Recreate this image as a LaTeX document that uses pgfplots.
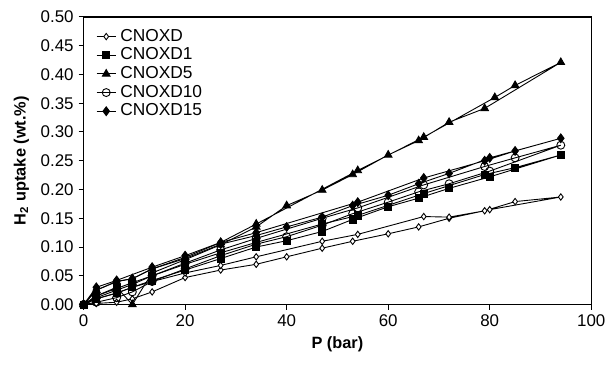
\documentclass[border=0pt]{standalone}
\usepackage{pgfplots}
\pgfplotsset{compat=1.18}
\usepackage{fontspec}
\setmainfont{Liberation Sans}
\usetikzlibrary{calc}
\begin{document}
\begin{tikzpicture}
\begin{axis}[name=ax,
  scale only axis, width=255pt, height=144.5pt,
  xmin=0, xmax=100, ymin=0, ymax=0.5,
  xtick={0,20,...,100}, ytick={0,0.05,...,0.5},
  yticklabel style={xshift=1pt,/pgf/number format/.cd,fixed,fixed zerofill,precision=2},
  /pgf/number format/assume math mode=true,
  tick align=outside, xtick pos=bottom, ytick pos=left,
  major tick length=2.5pt,
  axis line style={line width=0.6pt},
  tick style={line width=0.5pt,black},
  ticklabel style={font=\fontsize{8.5}{9}\selectfont},
  xticklabel style={yshift=1pt},
  xlabel={\textbf{P (bar)}}, ylabel={\textbf{H\textsubscript{2} uptake (wt.\%)}},
  label style={font=\fontsize{8.2}{9.5}\selectfont},
  xlabel style={yshift=2pt}, ylabel style={yshift=-1pt},
  legend style={at={(0.02,0.98)},anchor=north west,draw=none,fill=none,
    font=\fontsize{8.7}{9}\selectfont, row sep=-2.2pt, inner sep=1pt},
  legend cell align=left,
  legend image code/.code={\draw[mark repeat=2,mark phase=2] plot coordinates {(0cm,0cm)(0.17cm,0cm)(0.34cm,0cm)};},
  every axis plot/.append style={black, line width=0.45pt},
  clip=false,
]
\addplot[mark=diamond*, mark options={fill=white,scale=0.8}] coordinates {
(0,0)(2.5,0.002)(6.5,0.004)(9.6,0.01)(13.5,0.022)(20,0.047)(27,0.06)(34,0.07)(40,0.083)(47,0.098)(53,0.11)(60,0.123)(66,0.135)(72,0.15)(80,0.165)(94,0.187)
(85,0.179)(79,0.163)(72,0.152)(67,0.153)(54,0.122)(47,0.11)(34,0.083)(27,0.068)(20,0.055)(13.5,0.04)(9.6,0.03)(6.5,0.02)(2.5,0.01)(0,0)};
\addlegendentry{CNOXD}
\addplot[mark=square*, mark options={fill=black,scale=0.9}] coordinates {
(0,0)(2.5,0.01)(6.5,0.02)(9.6,0.03)(13.5,0.042)(20,0.06)(27,0.08)(34,0.1)(40,0.111)(47,0.127)(53,0.148)(60,0.17)(66,0.185)(72,0.202)(80,0.222)(94,0.26)
(85,0.238)(79,0.226)(67,0.193)(54,0.155)(47,0.14)(34,0.108)(27,0.09)(20,0.07)(13.5,0.05)(9.6,0.038)(6.5,0.028)(2.5,0.015)(0,0)};
\addlegendentry{CNOXD1}
\addplot[mark=triangle*, mark options={fill=black,scale=1.1}] coordinates {
(0,0)(2.5,0.015)(6.5,0.03)(9.6,0)(13.5,0.055)(20,0.078)(27,0.104)(34,0.135)(40,0.172)(47,0.199)(53,0.226)(60,0.26)(66,0.285)(72,0.317)(79,0.341)(94,0.421)
(85,0.381)(81,0.36)(67,0.291)(54,0.233)(34,0.14)(27,0.108)(20,0.082)(13.5,0.062)(9.6,0.045)(6.5,0.04)(2.5,0.025)(0,0)};
\addlegendentry{CNOXD5}
\addplot[mark=o, mark options={fill=white,scale=1.0}] coordinates {
(0,0)(2.5,0.004)(6.5,0.012)(9.6,0.022)(13.5,0.04)(20,0.062)(27,0.085)(34,0.105)(40,0.118)(47,0.138)(53,0.158)(60,0.178)(66,0.196)(72,0.21)(80,0.232)(94,0.277)
(85,0.255)(79,0.24)(67,0.208)(54,0.168)(47,0.15)(34,0.115)(27,0.095)(20,0.072)(13.5,0.05)(9.6,0.035)(6.5,0.025)(2.5,0.012)(0,0)};
\addlegendentry{CNOXD10}
\addplot[mark=diamond*, mark options={fill=black,scale=1.1}] coordinates {
(0,0)(2.5,0.025)(6.5,0.04)(9.6,0.045)(13.5,0.062)(20,0.08)(27,0.105)(34,0.12)(40,0.135)(47,0.152)(53,0.172)(60,0.19)(66,0.21)(72,0.228)(80,0.255)(94,0.289)
(85,0.267)(79,0.25)(67,0.22)(54,0.178)(34,0.125)(27,0.108)(20,0.085)(13.5,0.065)(6.5,0.042)(2.5,0.03)(0,0)};
\addlegendentry{CNOXD15}
\end{axis}
\path ($(ax.south west)+(-42pt,-31.5pt)$) rectangle ($(ax.north east)+(9pt,8.5pt)$);
\end{tikzpicture}
\end{document}
